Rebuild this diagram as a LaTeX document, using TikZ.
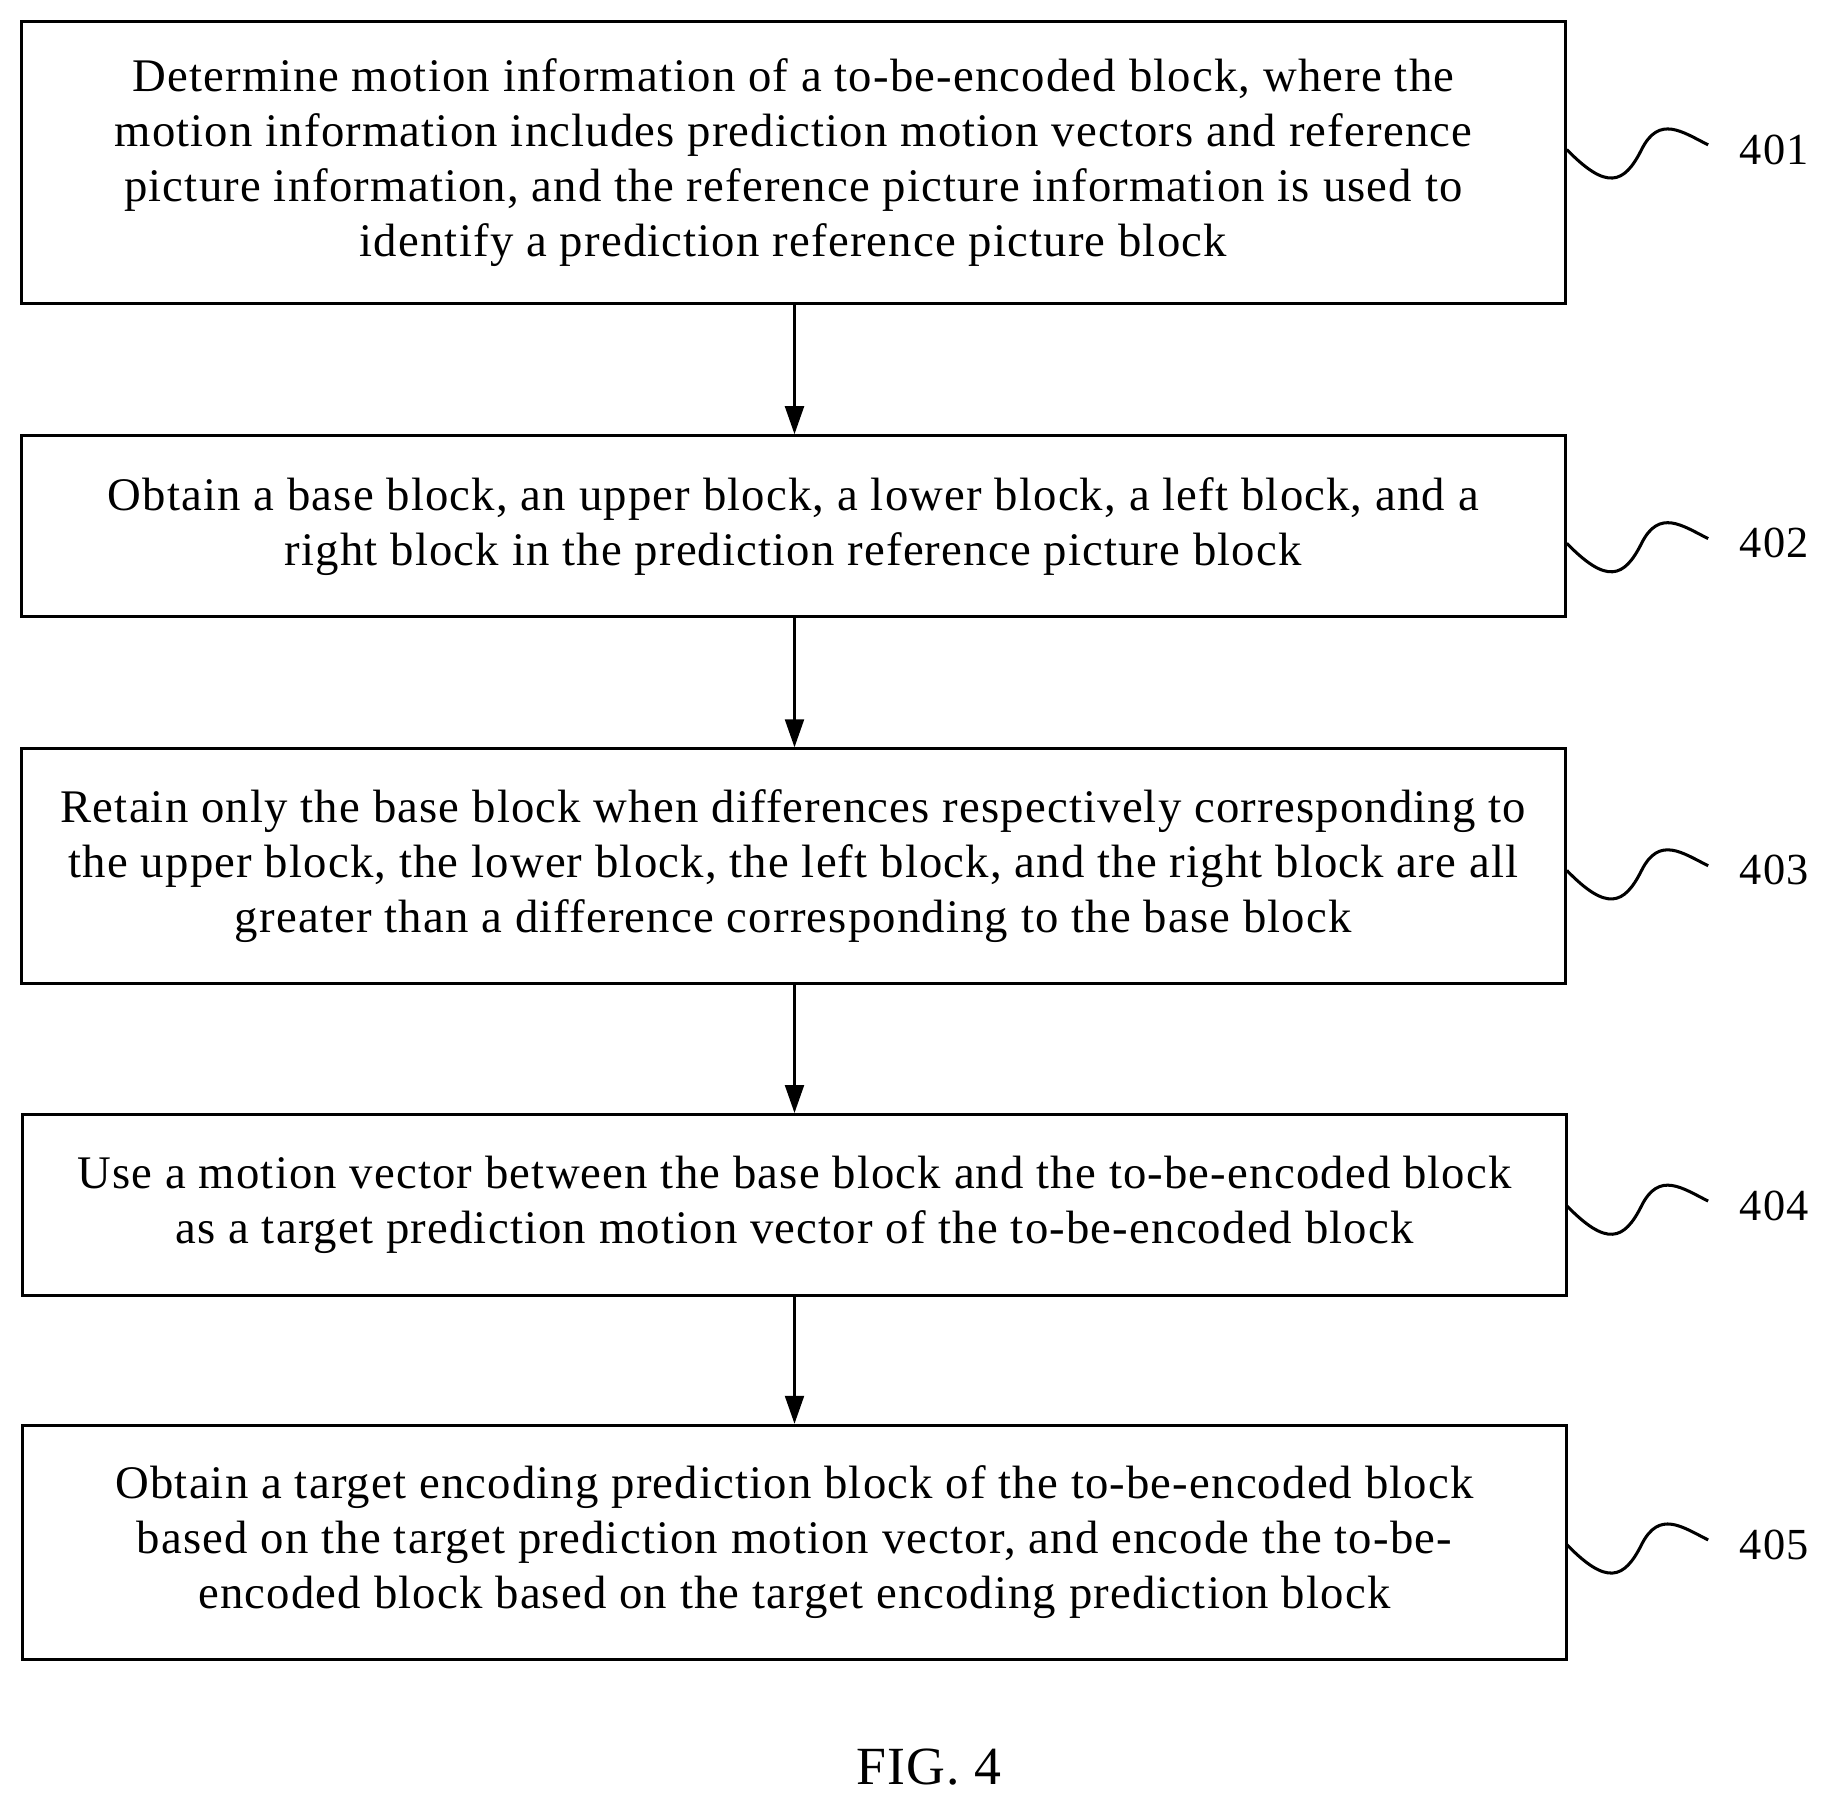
\documentclass[tikz,border=0pt]{standalone}
\usepackage{fontspec}
\setmainfont{Liberation Serif}[LetterSpace=2.5]
\usetikzlibrary{arrows.meta}
\begin{document}
\begin{tikzpicture}[x=0.5pt,y=-0.5pt,
 box/.style={draw,line width=1.3pt,inner sep=0pt,align=center,font=\fontsize{20}{23.6}\selectfont},
 arr/.style={-{Triangle[length=12pt,width=8pt]},line width=1.3pt},
 lab/.style={font=\fontsize{19}{22}\selectfont,anchor=west},
 sq/.style={line width=1.3pt}]
\useasboundingbox (0,0) rectangle (1568,1546);
\node[box,minimum width=661pt,minimum height=121pt] (b1) at (679,139) {\raisebox{-3pt}{\parbox{650pt}{\centering Determine motion information of a to-be-encoded block, where the\\motion information includes prediction motion vectors and reference\\picture information, and the reference picture information is used to\\identify a prediction reference picture block}}};
\node[box,minimum width=661pt,minimum height=77.5pt] (b2) at (679,450.5) {\raisebox{-3pt}{\parbox{650pt}{\centering Obtain a base block, an upper block, a lower block, a left block, and a\\right block in the prediction reference picture block}}};
\node[box,minimum width=661pt,minimum height=100.5pt] (b3) at (679,741.5) {\raisebox{-3pt}{\parbox{658pt}{\centering Retain only the base block when differences respectively corresponding to\\the upper block, the lower block, the left block, and the right block are all\\greater than a difference corresponding to the base block}}};
\node[box,minimum width=661pt,minimum height=77.5pt] (b4) at (680,1031.5) {\raisebox{-3pt}{\parbox{650pt}{\centering Use a motion vector between the base block and the to-be-encoded block\\as a target prediction motion vector of the to-be-encoded block}}};
\node[box,minimum width=661pt,minimum height=100pt] (b5) at (680,1320) {\raisebox{-3pt}{\parbox{650pt}{\centering Obtain a target encoding prediction block of the to-be-encoded block\\based on the target prediction motion vector, and encode the to-be-\\encoded block based on the target encoding prediction block}}};
\draw[arr] (b1.south -| 680,0) -- (b2.north -| 680,0);
\draw[arr] (b2.south -| 680,0) -- (b3.north -| 680,0);
\draw[arr] (b3.south -| 680,0) -- (b4.north -| 680,0);
\draw[arr] (b4.south -| 680,0) -- (b5.north -| 680,0);
\foreach \n/\y/\b in {401/128/b1,402/465/b2,403/745/b3,404/1032/b4,405/1322/b5}{
  \coordinate (s\n) at (1341,\y);
  \coordinate (e\n) at (1462,\y-4);
  \draw[sq] (s\n) .. controls (1375,\y+35) and (1390,\y+30) .. (1405,\y) .. controls (1420,\y-30) and (1440,\y-15) .. (e\n);
  \node[lab] (l\n) at (1482,\y) {\n};
}
\node[font=\fontsize{23}{26}\selectfont] (fig) at (795,1512) {FIG. 4};
\end{tikzpicture}
\end{document}
